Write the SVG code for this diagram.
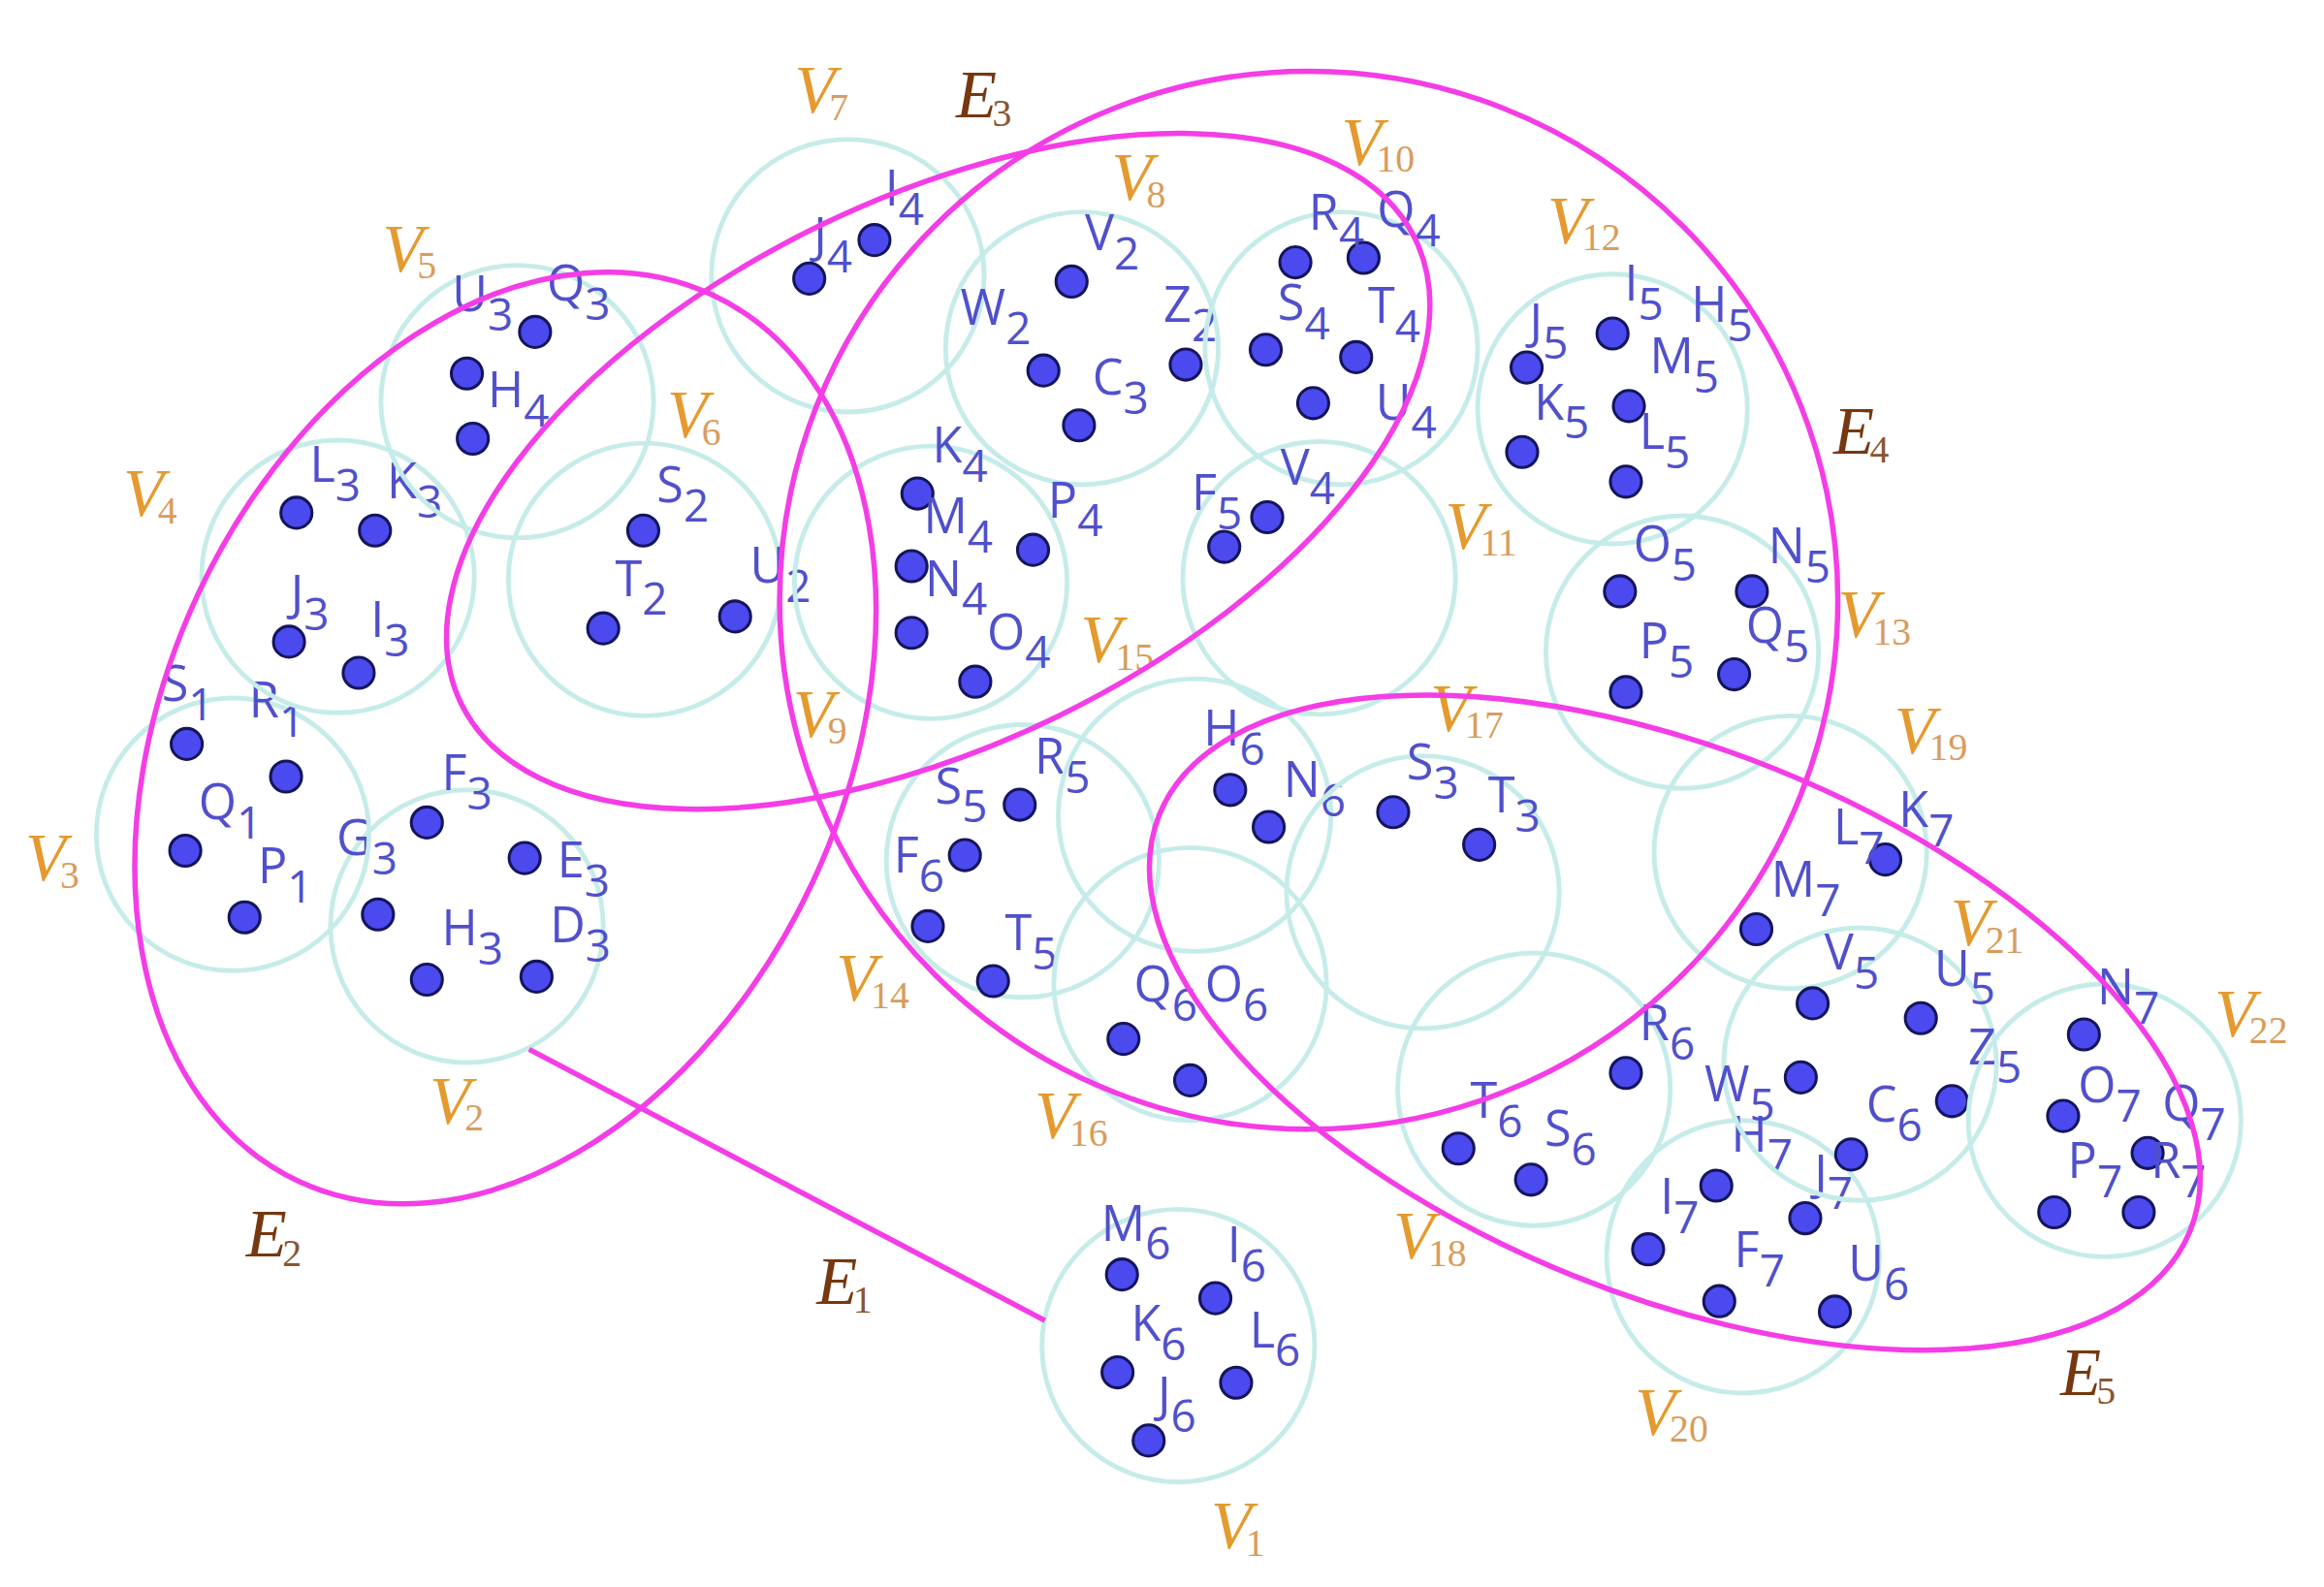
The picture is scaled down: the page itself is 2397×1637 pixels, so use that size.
<svg xmlns="http://www.w3.org/2000/svg" width="2397" height="1637" viewBox="0 0 2397 1637">
<style>
.c{fill:none;stroke:#c6ecea;stroke-width:3.2}
.d{fill:#4a4aef;stroke:#15155c;stroke-width:2}
.p{font-family:"Open Sans","DejaVu Sans",sans-serif;font-size:33px;fill:#5050cc}
.ps{font-size:30px}
.v{font-family:"Liberation Serif","DejaVu Serif",serif;font-style:italic;font-size:45px;fill:#e49a2e}
.vs{font-size:26px;fill:#d99c5c;font-style:normal}
.e{font-family:"Liberation Serif","DejaVu Serif",serif;font-style:italic;font-size:45px;fill:#76380f}
.es{font-size:26px;font-style:normal;fill:#8a5530}
.h{fill:none;stroke:#f43de6;stroke-width:3.6}
</style>
<rect width="2397" height="1637" fill="#ffffff"/>
<g transform="scale(1.5287)">
<g id="V1"><circle class="c" cx="795" cy="908" r="92"/><text class="v" x="817" y="1045">V<tspan class="vs" dx="-4" dy="5">1</tspan></text>
<circle class="d" cx="757" cy="860" r="10.5"/><circle class="d" cx="820" cy="876" r="10.5"/><circle class="d" cx="754" cy="926" r="10.5"/><circle class="d" cx="834" cy="933" r="10.5"/><circle class="d" cx="775" cy="972" r="10.5"/>
<text class="p" x="743" y="837">M<tspan class="ps" dy="13">6</tspan></text><text class="p" x="828" y="852">I<tspan class="ps" dy="13">6</tspan></text><text class="p" x="763" y="905">K<tspan class="ps" dy="13">6</tspan></text><text class="p" x="843" y="909">L<tspan class="ps" dy="13">6</tspan></text><text class="p" x="781" y="953">J<tspan class="ps" dy="13">6</tspan></text></g>
<g id="V2"><circle class="c" cx="315" cy="625" r="92"/><text class="v" x="290" y="758">V<tspan class="vs" dx="-4" dy="5">2</tspan></text>
<circle class="d" cx="288" cy="555" r="10.5"/><circle class="d" cx="354" cy="579" r="10.5"/><circle class="d" cx="255" cy="617" r="10.5"/><circle class="d" cx="288" cy="661" r="10.5"/><circle class="d" cx="362" cy="659" r="10.5"/>
<text class="p" x="298" y="533">F<tspan class="ps" dy="13">3</tspan></text><text class="p" x="376" y="592">E<tspan class="ps" dy="13">3</tspan></text><text class="p" x="227" y="577">G<tspan class="ps" dy="13">3</tspan></text><text class="p" x="298" y="638">H<tspan class="ps" dy="13">3</tspan></text><text class="p" x="371" y="636">D<tspan class="ps" dy="13">3</tspan></text></g>
<g id="V3"><circle class="c" cx="157" cy="563" r="92"/><text class="v" x="17" y="594">V<tspan class="vs" dx="-4" dy="5">3</tspan></text>
<circle class="d" cx="126" cy="502" r="10.5"/><circle class="d" cx="193" cy="524" r="10.5"/><circle class="d" cx="125" cy="574" r="10.5"/><circle class="d" cx="165" cy="619" r="10.5"/>
<text class="p" x="109" y="473">S<tspan class="ps" dy="13">1</tspan></text><text class="p" x="168" y="484">R<tspan class="ps" dy="13">1</tspan></text><text class="p" x="134" y="553">Q<tspan class="ps" dy="13">1</tspan></text><text class="p" x="174" y="596">P<tspan class="ps" dy="13">1</tspan></text></g>
<g id="V4"><circle class="c" cx="228" cy="389" r="92"/><text class="v" x="83" y="348">V<tspan class="vs" dx="-4" dy="5">4</tspan></text>
<circle class="d" cx="200" cy="346" r="10.5"/><circle class="d" cx="253" cy="358" r="10.5"/><circle class="d" cx="195" cy="433" r="10.5"/><circle class="d" cx="242" cy="454" r="10.5"/>
<text class="p" x="209" y="325">L<tspan class="ps" dy="13">3</tspan></text><text class="p" x="261" y="336">K<tspan class="ps" dy="13">3</tspan></text><text class="p" x="196" y="412">J<tspan class="ps" dy="13">3</tspan></text><text class="p" x="250" y="430">I<tspan class="ps" dy="13">3</tspan></text></g>
<g id="V5"><circle class="c" cx="349" cy="271" r="92"/><text class="v" x="258" y="183">V<tspan class="vs" dx="-4" dy="5">5</tspan></text>
<circle class="d" cx="361" cy="224" r="10.5"/><circle class="d" cx="315" cy="252" r="10.5"/><circle class="d" cx="319" cy="296" r="10.5"/>
<text class="p" x="305" y="210">U<tspan class="ps" dy="13">3</tspan></text><text class="p" x="369" y="203">Q<tspan class="ps" dy="13">3</tspan></text><text class="p" x="329" y="275">H<tspan class="ps" dy="13">4</tspan></text></g>
<g id="V6"><circle class="c" cx="435" cy="391" r="92"/><text class="v" x="450" y="295">V<tspan class="vs" dx="-4" dy="5">6</tspan></text>
<circle class="d" cx="434" cy="358" r="10.5"/><circle class="d" cx="407" cy="424" r="10.5"/><circle class="d" cx="496" cy="416" r="10.5"/>
<text class="p" x="443" y="339">S<tspan class="ps" dy="13">2</tspan></text><text class="p" x="415" y="402">T<tspan class="ps" dy="13">2</tspan></text><text class="p" x="506" y="393">U<tspan class="ps" dy="13">2</tspan></text></g>
<g id="V7"><circle class="c" cx="572" cy="186" r="92"/><text class="v" x="536" y="76">V<tspan class="vs" dx="-4" dy="5">7</tspan></text>
<circle class="d" cx="546" cy="188" r="10.5"/><circle class="d" cx="590" cy="162" r="10.5"/>
<text class="p" x="549" y="171">J<tspan class="ps" dy="13">4</tspan></text><text class="p" x="597" y="139">I<tspan class="ps" dy="13">4</tspan></text></g>
<g id="V8"><circle class="c" cx="730" cy="235" r="92"/><text class="v" x="750" y="135">V<tspan class="vs" dx="-4" dy="5">8</tspan></text>
<circle class="d" cx="723" cy="190" r="10.5"/><circle class="d" cx="704" cy="250" r="10.5"/><circle class="d" cx="728" cy="287" r="10.5"/><circle class="d" cx="800" cy="246" r="10.5"/>
<text class="p" x="732" y="169">V<tspan class="ps" dy="13">2</tspan></text><text class="p" x="648" y="219">W<tspan class="ps" dy="13">2</tspan></text><text class="p" x="737" y="266">C<tspan class="ps" dy="13">3</tspan></text><text class="p" x="785" y="217">Z<tspan class="ps" dy="13">2</tspan></text></g>
<g id="V9"><circle class="c" cx="628" cy="393" r="92"/><text class="v" x="535" y="497">V<tspan class="vs" dx="-4" dy="5">9</tspan></text>
<circle class="d" cx="619" cy="333" r="10.5"/><circle class="d" cx="615" cy="382" r="10.5"/><circle class="d" cx="615" cy="427" r="10.5"/><circle class="d" cx="658" cy="460" r="10.5"/><circle class="d" cx="697" cy="371" r="10.5"/>
<text class="p" x="629" y="312">K<tspan class="ps" dy="13">4</tspan></text><text class="p" x="623" y="360">M<tspan class="ps" dy="13">4</tspan></text><text class="p" x="624" y="402">N<tspan class="ps" dy="13">4</tspan></text><text class="p" x="666" y="438">O<tspan class="ps" dy="13">4</tspan></text><text class="p" x="707" y="349">P<tspan class="ps" dy="13">4</tspan></text></g>
<g id="V10"><circle class="c" cx="905" cy="235" r="92"/><text class="v" x="905" y="111">V<tspan class="vs" dx="-4" dy="5">10</tspan></text>
<circle class="d" cx="874" cy="177" r="10.5"/><circle class="d" cx="920" cy="174" r="10.5"/><circle class="d" cx="854" cy="236" r="10.5"/><circle class="d" cx="915" cy="241" r="10.5"/><circle class="d" cx="886" cy="272" r="10.5"/>
<text class="p" x="883" y="155">R<tspan class="ps" dy="13">4</tspan></text><text class="p" x="929" y="153">Q<tspan class="ps" dy="13">4</tspan></text><text class="p" x="862" y="216">S<tspan class="ps" dy="13">4</tspan></text><text class="p" x="923" y="218">T<tspan class="ps" dy="13">4</tspan></text><text class="p" x="928" y="283">U<tspan class="ps" dy="13">4</tspan></text></g>
<g id="V11"><circle class="c" cx="890" cy="390" r="92"/><text class="v" x="975" y="370">V<tspan class="vs" dx="-4" dy="5">11</tspan></text>
<circle class="d" cx="826" cy="369" r="10.5"/><circle class="d" cx="855" cy="349" r="10.5"/>
<text class="p" x="804" y="344">F<tspan class="ps" dy="13">5</tspan></text><text class="p" x="864" y="327">V<tspan class="ps" dy="13">4</tspan></text></g>
<g id="V12"><circle class="c" cx="1088" cy="276" r="91"/><text class="v" x="1044" y="164">V<tspan class="vs" dx="-4" dy="5">12</tspan></text>
<circle class="d" cx="1088" cy="225" r="10.5"/><circle class="d" cx="1030" cy="248" r="10.5"/><circle class="d" cx="1099" cy="274" r="10.5"/><circle class="d" cx="1027" cy="305" r="10.5"/><circle class="d" cx="1097" cy="325" r="10.5"/>
<text class="p" x="1096" y="203">I<tspan class="ps" dy="13">5</tspan></text><text class="p" x="1141" y="217">H<tspan class="ps" dy="13">5</tspan></text><text class="p" x="1032" y="229">J<tspan class="ps" dy="13">5</tspan></text><text class="p" x="1113" y="252">M<tspan class="ps" dy="13">5</tspan></text><text class="p" x="1035" y="283">K<tspan class="ps" dy="13">5</tspan></text><text class="p" x="1106" y="303">L<tspan class="ps" dy="13">5</tspan></text></g>
<g id="V13"><circle class="c" cx="1135" cy="440" r="92"/><text class="v" x="1240" y="430">V<tspan class="vs" dx="-4" dy="5">13</tspan></text>
<circle class="d" cx="1093" cy="399" r="10.5"/><circle class="d" cx="1182" cy="399" r="10.5"/><circle class="d" cx="1170" cy="455" r="10.5"/><circle class="d" cx="1097" cy="467" r="10.5"/>
<text class="p" x="1102" y="379">O<tspan class="ps" dy="13">5</tspan></text><text class="p" x="1193" y="380">N<tspan class="ps" dy="13">5</tspan></text><text class="p" x="1106" y="444">P<tspan class="ps" dy="13">5</tspan></text><text class="p" x="1178" y="434">Q<tspan class="ps" dy="13">5</tspan></text></g>
<g id="V14"><circle class="c" cx="690" cy="581" r="92"/><text class="v" x="564" y="675">V<tspan class="vs" dx="-4" dy="5">14</tspan></text>
<circle class="d" cx="688" cy="543" r="10.5"/><circle class="d" cx="651" cy="577" r="10.5"/><circle class="d" cx="626" cy="625" r="10.5"/><circle class="d" cx="670" cy="662" r="10.5"/>
<text class="p" x="631" y="542">S<tspan class="ps" dy="13">5</tspan></text><text class="p" x="698" y="522">R<tspan class="ps" dy="13">5</tspan></text><text class="p" x="603" y="589">F<tspan class="ps" dy="13">6</tspan></text><text class="p" x="678" y="641">T<tspan class="ps" dy="13">5</tspan></text></g>
<g id="V15"><circle class="c" cx="806" cy="550" r="92"/><text class="v" x="729" y="447">V<tspan class="vs" dx="-4" dy="5">15</tspan></text>
<circle class="d" cx="830" cy="533" r="10.5"/><circle class="d" cx="856" cy="558" r="10.5"/>
<text class="p" x="812" y="503">H<tspan class="ps" dy="13">6</tspan></text><text class="p" x="866" y="538">N<tspan class="ps" dy="13">6</tspan></text></g>
<g id="V16"><circle class="c" cx="803" cy="664" r="92"/><text class="v" x="698" y="768">V<tspan class="vs" dx="-4" dy="5">16</tspan></text>
<circle class="d" cx="758" cy="701" r="10.5"/><circle class="d" cx="803" cy="729" r="10.5"/>
<text class="p" x="765" y="676">Q<tspan class="ps" dy="13">6</tspan></text><text class="p" x="813" y="676">O<tspan class="ps" dy="13">6</tspan></text></g>
<g id="V17"><circle class="c" cx="960" cy="602" r="92"/><text class="v" x="965" y="493">V<tspan class="vs" dx="-4" dy="5">17</tspan></text>
<circle class="d" cx="940" cy="548" r="10.5"/><circle class="d" cx="998" cy="570" r="10.5"/>
<text class="p" x="949" y="526">S<tspan class="ps" dy="13">3</tspan></text><text class="p" x="1004" y="548">T<tspan class="ps" dy="13">3</tspan></text></g>
<g id="V18"><circle class="c" cx="1035" cy="735" r="92"/><text class="v" x="940" y="849">V<tspan class="vs" dx="-4" dy="5">18</tspan></text>
<circle class="d" cx="1097" cy="724" r="10.5"/><circle class="d" cx="984" cy="775" r="10.5"/><circle class="d" cx="1033" cy="796" r="10.5"/>
<text class="p" x="1106" y="702">R<tspan class="ps" dy="13">6</tspan></text><text class="p" x="992" y="754">T<tspan class="ps" dy="13">6</tspan></text><text class="p" x="1042" y="773">S<tspan class="ps" dy="13">6</tspan></text></g>
<g id="V19"><circle class="c" cx="1208" cy="575" r="92"/><text class="v" x="1278" y="508">V<tspan class="vs" dx="-4" dy="5">19</tspan></text>
<circle class="d" cx="1272" cy="580" r="10.5"/><circle class="d" cx="1185" cy="627" r="10.5"/>
<text class="p" x="1281" y="558">K<tspan class="ps" dy="13">7</tspan></text><text class="p" x="1237" y="570">L<tspan class="ps" dy="13">7</tspan></text><text class="p" x="1195" y="605">M<tspan class="ps" dy="13">7</tspan></text></g>
<g id="V20"><circle class="c" cx="1176" cy="848" r="92"/><text class="v" x="1103" y="968">V<tspan class="vs" dx="-4" dy="5">20</tspan></text>
<circle class="d" cx="1158" cy="800" r="10.5"/><circle class="d" cx="1112" cy="843" r="10.5"/><circle class="d" cx="1218" cy="822" r="10.5"/><circle class="d" cx="1160" cy="878" r="10.5"/><circle class="d" cx="1238" cy="885" r="10.5"/>
<text class="p" x="1168" y="777">H<tspan class="ps" dy="13">7</tspan></text><text class="p" x="1120" y="819">I<tspan class="ps" dy="13">7</tspan></text><text class="p" x="1224" y="803">J<tspan class="ps" dy="13">7</tspan></text><text class="p" x="1170" y="855">F<tspan class="ps" dy="13">7</tspan></text><text class="p" x="1247" y="864">U<tspan class="ps" dy="13">6</tspan></text></g>
<g id="V21"><circle class="c" cx="1255" cy="718" r="92"/><text class="v" x="1316" y="638">V<tspan class="vs" dx="-4" dy="5">21</tspan></text>
<circle class="d" cx="1223" cy="677" r="10.5"/><circle class="d" cx="1296" cy="687" r="10.5"/><circle class="d" cx="1215" cy="727" r="10.5"/><circle class="d" cx="1317" cy="743" r="10.5"/><circle class="d" cx="1249" cy="779" r="10.5"/>
<text class="p" x="1231" y="654">V<tspan class="ps" dy="13">5</tspan></text><text class="p" x="1305" y="665">U<tspan class="ps" dy="13">5</tspan></text><text class="p" x="1150" y="743">W<tspan class="ps" dy="13">5</tspan></text><text class="p" x="1328" y="718">Z<tspan class="ps" dy="13">5</tspan></text><text class="p" x="1259" y="757">C<tspan class="ps" dy="13">6</tspan></text></g>
<g id="V22"><circle class="c" cx="1420" cy="756" r="92"/><text class="v" x="1494" y="699">V<tspan class="vs" dx="-4" dy="5">22</tspan></text>
<circle class="d" cx="1406" cy="698" r="10.5"/><circle class="d" cx="1392" cy="753" r="10.5"/><circle class="d" cx="1449" cy="778" r="10.5"/><circle class="d" cx="1386" cy="818" r="10.5"/><circle class="d" cx="1443" cy="818" r="10.5"/>
<text class="p" x="1415" y="678">N<tspan class="ps" dy="13">7</tspan></text><text class="p" x="1402" y="744">O<tspan class="ps" dy="13">7</tspan></text><text class="p" x="1459" y="756">Q<tspan class="ps" dy="13">7</tspan></text><text class="p" x="1395" y="795">P<tspan class="ps" dy="13">7</tspan></text><text class="p" x="1451" y="795">R<tspan class="ps" dy="13">7</tspan></text></g>
<g id="connectors">
<g id="E1"><line class="h" x1="357" y1="708" x2="705" y2="891"/><text class="e" x="551" y="880">E<tspan class="es" dx="-3" dy="6">1</tspan></text></g>
<g id="E2"><ellipse class="h" cx="341" cy="498" rx="330" ry="229" transform="rotate(-65 341 498)"/><text class="e" x="166" y="848">E<tspan class="es" dx="-3" dy="6">2</tspan></text></g>
<g id="E3"><ellipse class="h" cx="633" cy="318" rx="358" ry="184" transform="rotate(-26 633 318)"/><text class="e" x="645" y="79">E<tspan class="es" dx="-3" dy="6">3</tspan></text></g>
<g id="E4"><circle class="h" cx="883" cy="405" r="357"/><text class="e" x="1237" y="306">E<tspan class="es" dx="-3" dy="6">4</tspan></text></g>
<g id="E5"><ellipse class="h" cx="1130" cy="690" rx="375" ry="184" transform="rotate(22 1130 690)"/><text class="e" x="1390" y="941">E<tspan class="es" dx="-3" dy="6">5</tspan></text></g>
</g>
</g>
</svg>
